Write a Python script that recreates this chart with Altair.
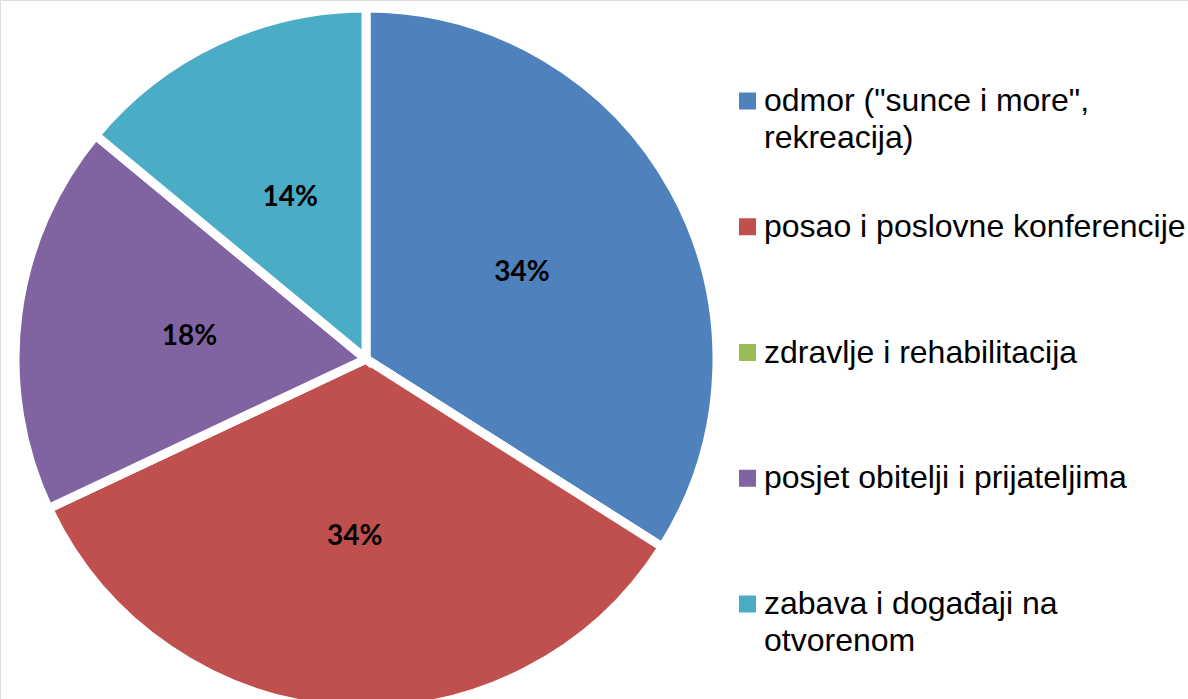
import altair as alt
import pandas as pd

categories = [
    "odmor (\"sunce i more\",\nrekreacija)",
    "posao i poslovne konferencije",
    "zdravlje i rehabilitacija",
    "posjet obitelji i prijateljima",
    "zabava i događaji na\notvorenom",
]
values = [34, 34, 0, 18, 14]
labels = ["34%", "34%", "", "18%", "14%"]
colors = ["#4F81BD", "#C0504D", "#9BBB59", "#8064A2", "#4BACC6"]

df = pd.DataFrame({
    "idx": list(range(len(categories))),
    "cat": categories,
    "val": values,
    "lab": labels,
})

color = alt.Color("cat:N", scale=alt.Scale(domain=categories, range=colors), legend=None)
theta = alt.Theta("val:Q", stack=True)
order = alt.Order("idx:Q")

cx = alt.value(366)
cy = alt.value(359)

pie = alt.Chart(df).mark_arc(outerRadius=351, stroke="white", strokeWidth=9).encode(
    theta=theta, color=color, order=order, x=cx, y=cy
)

pct = alt.Chart(df).transform_filter("datum.val > 0").mark_text(
    font="Lato", fontWeight="bold", fontSize=28, color="black",
    align="center", baseline="middle"
).encode(
    theta=theta, order=order, text="lab:N", radius=alt.value(178), x=cx, y=cy
)

ly = alt.Y("idx:Q", scale=alt.Scale(domain=[0, 4], range=[101, 604]), axis=None)

leg_sym = alt.Chart(df).mark_square(size=289, opacity=1).encode(
    x=alt.value(747.5), y=ly, color=color
)
leg_txt = alt.Chart(df).mark_text(
    font="Liberation Sans", fontSize=32, lineBreak="\n", lineHeight=37,
    align="left", baseline="middle", color="black"
).encode(
    x=alt.value(764), y=ly, text="cat:N"
)

chart = alt.layer(pie, pct, leg_sym, leg_txt).properties(
    width=1188, height=699, padding=0, autosize=alt.AutoSizeParams(type="none")
).configure_view(stroke=None).configure(background="white")

chart.save("out.html", embed_options={"renderer": "svg", "actions": False})
